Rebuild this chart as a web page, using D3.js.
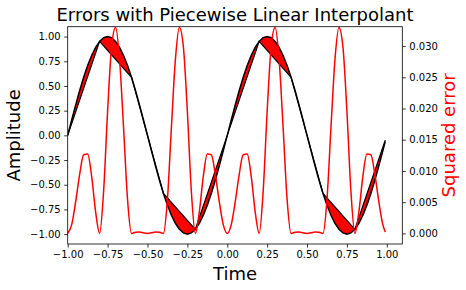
<!DOCTYPE html>
<html>
<head>
<meta charset="utf-8">
<script src="https://cdn.jsdelivr.net/npm/d3@7.9.0/dist/d3.min.js"></script>
<style>
  body { margin: 0; background: #fff; }
  svg { display: block; font-family: "DejaVu Sans", sans-serif; }
</style>
</head>
<body>
<svg id="chart" width="466" height="290"></svg>
<script>
// sample times (last sample at 0.99)
const time = [
  -1, -0.975, -0.95, -0.925, -0.9, -0.875, -0.85, -0.825,
  -0.8, -0.775, -0.75, -0.725, -0.7, -0.675, -0.65, -0.625,
  -0.6, -0.575, -0.55, -0.525, -0.5, -0.475, -0.45, -0.425,
  -0.4, -0.375, -0.35, -0.325, -0.3, -0.275, -0.25, -0.225,
  -0.2, -0.175, -0.15, -0.125, -0.1, -0.075, -0.05, -0.025,
  0, 0.025, 0.05, 0.075, 0.1, 0.125, 0.15, 0.175,
  0.2, 0.225, 0.25, 0.275, 0.3, 0.325, 0.35, 0.375,
  0.4, 0.425, 0.45, 0.475, 0.5, 0.525, 0.55, 0.575,
  0.6, 0.625, 0.65, 0.675, 0.7, 0.725, 0.75, 0.775,
  0.8, 0.825, 0.85, 0.875, 0.9, 0.925, 0.95, 0.975,
  0.99
];

// the signal (black curve)
const signal = [
  0, 0.156, 0.309, 0.454, 0.588, 0.707, 0.809, 0.891,
  0.951, 0.988, 1, 0.988, 0.951, 0.891, 0.809, 0.707,
  0.588, 0.454, 0.309, 0.156, 0, -0.156, -0.309, -0.454,
  -0.588, -0.707, -0.809, -0.891, -0.951, -0.988, -1, -0.988,
  -0.951, -0.891, -0.809, -0.707, -0.588, -0.454, -0.309, -0.156,
  0, 0.156, 0.309, 0.454, 0.588, 0.707, 0.809, 0.891,
  0.951, 0.988, 1, 0.988, 0.951, 0.891, 0.809, 0.707,
  0.588, 0.454, 0.309, 0.156, 0, -0.156, -0.309, -0.454,
  -0.588, -0.707, -0.809, -0.891, -0.951, -0.988, -1, -0.988,
  -0.951, -0.891, -0.809, -0.707, -0.588, -0.454, -0.309, -0.156,
  -0.063
];

// piecewise linear interpolant nodes
const knotTime = [-1, -0.8, -0.6, -0.4, -0.2, 0, 0.2, 0.4, 0.6, 0.8, 0.99];
const knotValue = [0, 0.951, 0.588, -0.588, -0.951, 0, 0.951, 0.588, -0.588, -0.951, -0.048];

// squared error (right axis)
const sqError = [
  0, 0.00141, 0.00507, 0.00947, 0.01259, 0.01270, 0.00916, 0.00346,
  0, 0.00672, 0.01952, 0.02986, 0.03298, 0.02786, 0.01698, 0.00545,
  0, 0.00017, 0.00023, 0.00009, 0, 0.00009, 0.00023, 0.00017,
  0, 0.00545, 0.01698, 0.02786, 0.03298, 0.02986, 0.01952, 0.00672,
  0, 0.00346, 0.00916, 0.01270, 0.01259, 0.00947, 0.00507, 0.00141,
  0, 0.00141, 0.00507, 0.00947, 0.01259, 0.01270, 0.00916, 0.00346,
  0, 0.00672, 0.01952, 0.02986, 0.03298, 0.02786, 0.01698, 0.00545,
  0, 0.00017, 0.00023, 0.00009, 0, 0.00009, 0.00023, 0.00017,
  0, 0.00545, 0.01698, 0.02786, 0.03298, 0.02986, 0.01952, 0.00672,
  0, 0.00346, 0.00916, 0.01270, 0.01259, 0.00947, 0.00507, 0.00141,
  0.00023
];

const xTicks = [-1, -0.75, -0.5, -0.25, 0, 0.25, 0.5, 0.75, 1];
const yTicks = [-1, -0.75, -0.5, -0.25, 0, 0.25, 0.5, 0.75, 1];
const y2Ticks = [0, 0.005, 0.01, 0.015, 0.02, 0.025, 0.03];

let svg = d3.select('#chart');
let margin = { top: 26.7, right: 63.7, bottom: 46, left: 67.7 };
let width = 466 - margin.left - margin.right;
let height = 290 - margin.top - margin.bottom;
let g = svg.append("g").attr("transform", `translate(${margin.left},${margin.top})`);

let xScale = d3.scaleLinear().domain([-1, 1.097]).range([0, width]);
let yScale = d3.scaleLinear().domain([-1.1, 1.1]).range([height, 0]);
let y2Scale = d3.scaleLinear().domain([-0.0017, 0.0331]).range([height, 0]);

g.append("clipPath").attr("id", "clip")
  .append("rect").attr("width", width).attr("height", height);

let plot = g.append("g").attr("clip-path", "url(#clip)");

// fill between signal and interpolant
const signalPts = time.map((t, i) => [t, signal[i]]);
const knotPts = knotTime.map((t, i) => [t, knotValue[i]]);
const polyPts = signalPts.concat(knotPts.slice().reverse());
let lineXY = d3.line().x(d => xScale(d[0])).y(d => yScale(d[1]));

plot.append("path")
  .attr("d", lineXY(polyPts) + "Z")
  .attr("fill", "red")
  .attr("stroke", "none");

plot.append("path")
  .attr("d", lineXY(signalPts))
  .attr("fill", "none")
  .attr("stroke", "black")
  .attr("stroke-width", 1.5);

plot.append("path")
  .attr("d", lineXY(knotPts))
  .attr("fill", "none")
  .attr("stroke", "black")
  .attr("stroke-width", 1.2);

// squared error on twin axis
let errLine = d3.line()
  .x((d, i) => xScale(time[i]))
  .y(d => y2Scale(d))
  .curve(d3.curveMonotoneX);

plot.append("path")
  .datum(sqError)
  .attr("d", errLine)
  .attr("fill", "none")
  .attr("stroke", "red")
  .attr("stroke-width", 1.5);

// axes
let fmt2 = d3.format(".2f");
let fmt3 = d3.format(".3f");

let xAxisGroup = g.append("g").attr("transform", `translate(0,${height})`)
  .call(d3.axisBottom(xScale).tickValues(xTicks).tickFormat(fmt2).tickSize(3.5).tickPadding(3.5));
let yAxisGroup = g.append("g")
  .call(d3.axisLeft(yScale).tickValues(yTicks).tickFormat(fmt2).tickSize(3.5).tickPadding(3.5));
let y2AxisGroup = g.append("g").attr("transform", `translate(${width},0)`)
  .call(d3.axisRight(y2Scale).tickValues(y2Ticks).tickFormat(fmt3).tickSize(3.5).tickPadding(3.5));

[xAxisGroup, yAxisGroup, y2AxisGroup].forEach(a => {
  a.select(".domain").remove();
  a.selectAll(".tick line").attr("stroke", "black").attr("stroke-width", 0.8);
  a.selectAll(".tick text").attr("font-size", "10px").attr("fill", "black")
    .attr("font-family", "DejaVu Sans");
});

// frame
g.append("rect")
  .attr("width", width)
  .attr("height", height)
  .attr("fill", "none")
  .attr("stroke", "black")
  .attr("stroke-width", 0.8);

// title and labels
svg.append("text")
  .attr("x", margin.left + width / 2)
  .attr("y", margin.top - 6)
  .attr("text-anchor", "middle")
  .attr("font-size", "18px")
  .attr("fill", "black")
  .text("Errors with Piecewise Linear Interpolant");

svg.append("text")
  .attr("x", margin.left + width / 2)
  .attr("y", 280)
  .attr("text-anchor", "middle")
  .attr("font-size", "18px")
  .attr("fill", "black")
  .text("Time");

svg.append("text")
  .attr("transform", `translate(20,${margin.top + height / 2}) rotate(-90)`)
  .attr("text-anchor", "middle")
  .attr("font-size", "18px")
  .attr("fill", "black")
  .text("Amplitude");

svg.append("text")
  .attr("transform", `translate(455,${margin.top + height / 2}) rotate(-90)`)
  .attr("text-anchor", "middle")
  .attr("font-size", "18px")
  .attr("fill", "red")
  .text("Squared error");
</script>
</body>
</html>
